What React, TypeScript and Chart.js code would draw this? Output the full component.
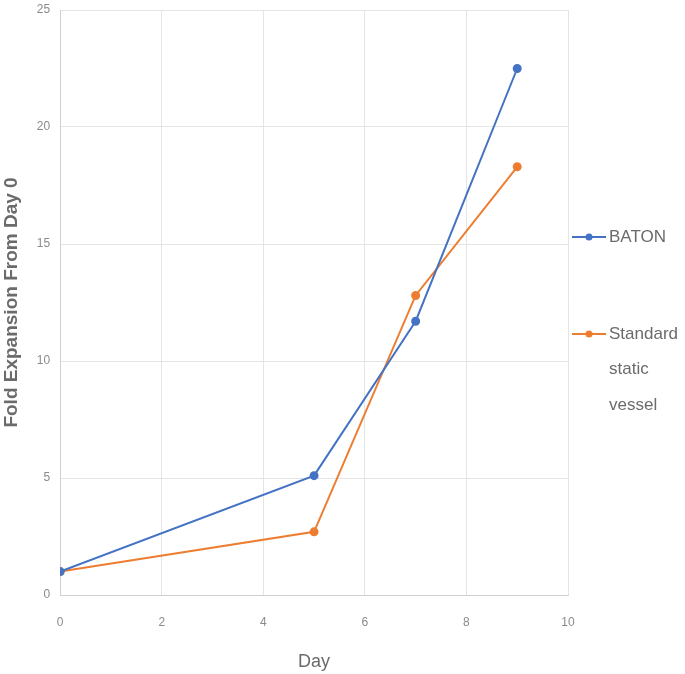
import React, { useEffect, useRef } from "react";
import { Chart, registerables } from "chart.js";

Chart.register(...registerables);

const days = [0, 5, 7, 9];
const batonValues = [1.0, 5.1, 11.7, 22.5];
const standardValues = [1.0, 2.7, 12.8, 18.3];
const seriesNames = ["BATON", "Standard static vessel"];
const legendLines = [["BATON"], ["Standard", "static", "vessel"]];
const xTitle = "Day";
const yTitle = "Fold Expansion From Day 0";

const BLUE = "#4472C4";
const ORANGE = "#ED7D31";
const TEXT = "#8a8a8a";
const DARK = "#6b6b6b";
const GRID = "#e4e4e4";
const FONT = "Liberation Sans";

export default function App() {
  const ref = useRef<HTMLCanvasElement | null>(null);
  useEffect(() => {
    document.body.style.margin = "0";
    const ctx = ref.current!.getContext("2d")!;
    const colors = [BLUE, ORANGE];
    const chart = new Chart(ctx, {
      type: "line",
      data: {
        datasets: [
          {
            label: seriesNames[0],
            data: days.map((d, i) => ({ x: d, y: batonValues[i] })),
            borderColor: BLUE,
            backgroundColor: BLUE,
            borderWidth: 2,
            pointRadius: 3.5,
            pointStyle: "circle",
          },
          {
            label: seriesNames[1],
            data: days.map((d, i) => ({ x: d, y: standardValues[i] })),
            borderColor: ORANGE,
            backgroundColor: ORANGE,
            borderWidth: 2,
            pointRadius: 3.5,
            pointStyle: "circle",
          },
        ],
      },
      options: {
        animation: false,
        responsive: false,
        maintainAspectRatio: false,
        layout: { padding: { top: 0, left: 0, right: 117, bottom: 1 } },
        scales: {
          x: {
            type: "linear",
            min: 0,
            max: 10,
            ticks: { stepSize: 2, color: TEXT, font: { family: FONT, size: 12 }, padding: 20 },
            grid: { color: GRID, drawTicks: false },
            border: { color: "#d0d0d0" },
            title: { display: true, text: xTitle, color: DARK, font: { family: FONT, size: 18 }, padding: { top: 2, bottom: 0 } },
          },
          y: {
            min: 0,
            max: 25,
            afterFit: (scale: any) => {
              scale.paddingTop = 10;
            },
            ticks: { stepSize: 5, color: TEXT, font: { family: FONT, size: 12 }, padding: 10 },
            grid: { color: GRID, drawTicks: false },
            border: { color: "#d0d0d0" },
            title: { display: true, text: yTitle, color: DARK, font: { family: FONT, size: 19, weight: "bold" }, padding: { top: 0, bottom: 4 } },
          },
        },
        plugins: {
          tooltip: { enabled: false },
          legend: { display: false },
        },
      },
      plugins: [
        {
          id: "sideLegend",
          afterDraw(c: any) {
            const g = c.ctx;
            const area = c.chartArea;
            const x0 = area.right + 4;
            const firstY = [area.top + 227, area.top + 324];
            const lineH = 35.5;
            g.save();
            c.data.datasets.forEach((ds: any, i: number) => {
              const y = firstY[i];
              g.strokeStyle = colors[i];
              g.lineWidth = 2;
              g.beginPath();
              g.moveTo(x0, y);
              g.lineTo(x0 + 34, y);
              g.stroke();
              g.fillStyle = colors[i];
              g.beginPath();
              g.arc(x0 + 17, y, 3.5, 0, Math.PI * 2);
              g.fill();
              g.fillStyle = DARK;
              g.font = `17px "${FONT}"`;
              g.textBaseline = "middle";
              g.textAlign = "left";
              legendLines[i].forEach((t, k) => {
                g.fillText(t, x0 + 37, y + k * lineH);
              });
            });
            g.restore();
          },
        },
      ],
    } as any);
    return () => chart.destroy();
  }, []);
  return (
    <div style={{ width: 685, height: 674 }}>
      <canvas ref={ref} width={685} height={674} style={{ display: "block" }} />
    </div>
  );
}
